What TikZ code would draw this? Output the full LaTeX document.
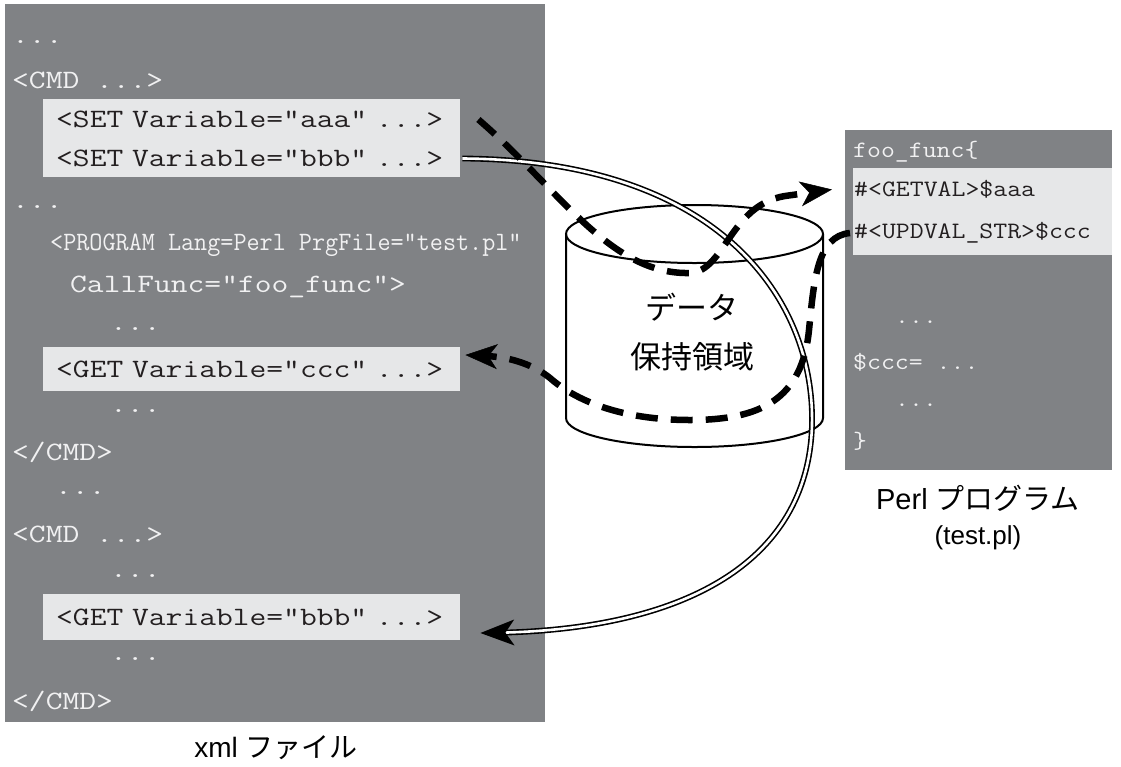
\documentclass[tikz,border=0pt]{standalone}
\usepackage{graphicx}
\usepackage{fontspec}
\setmainfont{Liberation Sans}
\setsansfont{Liberation Sans}
\setmonofont[FakeStretch=1.15]{Latin Modern Mono}
\newfontfamily\xmltt[FakeStretch=1.23]{Latin Modern Mono}
\newfontfamily\jpfont{Noto Sans CJK JP}
\usetikzlibrary{arrows.meta,decorations.markings}

\definecolor{panelgray}{RGB}{128,130,133}
\definecolor{hlgray}{RGB}{230,231,232}
\definecolor{codewhite}{RGB}{241,241,242}
\definecolor{codeblack}{RGB}{35,31,32}

\def\xmlfont{\xmltt\fontsize{26.5}{30}\selectfont}
\def\perlfont{\ttfamily\fontsize{23.5}{28}\selectfont}

\tikzset{
	xmlline/.style={anchor=west, inner sep=0pt, text=codewhite, font=\xmlfont},
	perlline/.style={anchor=west, inner sep=0pt, text=codewhite, font=\perlfont},
	xmlhl/.style={anchor=west, fill=hlgray, text=codeblack, font=\xmlfont, text width=391pt, align=left, inner xsep=13pt, inner ysep=0pt},
	perlhl/.style={anchor=west, fill=hlgray, text=codeblack, font=\perlfont, text width=257pt, align=left, inner xsep=1pt, inner ysep=0pt},
	storeline/.style={line width=2pt},
	dataflow/.style={line width=6.5pt, dash pattern=on 22pt off 13pt, -{Stealth[length=32pt,width=25pt,inset=9pt,line width=0.5pt]}},
	callflow/.style={line width=1.6pt, double=white, double distance=2.6pt, shorten >=14pt,
		postaction={decorate}, decoration={markings, mark=at position 1 with {\fill (0pt,0pt) -- (-34pt,13pt) -- (-25pt,0pt) -- (-34pt,-13pt) -- cycle;}}},
	caption/.style={align=center, text=black, font=\fontsize{29}{34}\selectfont},
}

\begin{document}
\begin{tikzpicture}[x=1pt,y=-1pt]
			%%%%% START %%%%%
			\useasboundingbox (0,0) rectangle (1121,766);
			
			\fill[panelgray] (5,4) rectangle (545,722);
			\fill[panelgray] (845,130) rectangle (1112,470);
			
			%%%%% xml file %%%%%
			\node[xmlline] (dotsA) at (12,42) {...};
			\node[xmlline] (cmdA) at (12,80) {<CMD ...>};
			\node[xmlhl, minimum height=41pt] (setaaa) at (43,119.5) {<SET Variable="aaa" ...>};
			\node[xmlhl, minimum height=37pt] (setbbb) at (43,158.5) {<SET Variable="bbb" ...>};
			\node[xmlline] (dotsB) at (12,207) {...};
			\node[xmlline] (prog) at (50,245) {\scalebox{0.78}[1]{<PROGRAM Lang=Perl PrgFile="test.pl"}};
			\node[xmlline] (callfunc) at (70,287) {CallFunc="foo\_func">};
			\node[xmlline] (dotsC) at (110,329) {...};
			\node[xmlhl, minimum height=44pt] (getccc) at (43,369) {<GET Variable="ccc" ...>};
			\node[xmlline] (dotsD) at (110,411) {...};
			\node[xmlline] (cmdendA) at (12,452) {</CMD>};
			\node[xmlline] (dotsE) at (55,493) {...};
			\node[xmlline] (cmdB) at (12,534) {<CMD ...>};
			\node[xmlline] (dotsF) at (110,576) {...};
			\node[xmlhl, minimum height=46pt] (getbbb) at (43,617) {<GET Variable="bbb" ...>};
			\node[xmlline] (dotsG) at (110,659) {...};
			\node[xmlline] (cmdendB) at (12,701) {</CMD>};
			
			\node[caption, font=\fontsize{28}{32}\selectfont] (xmlcap) at (276,748) {xml {\jpfont ファイル}};
			
			%%%%% perl program %%%%%
			\node[perlline] (foofunc) at (853,152) {foo\_func\{};
			\node[perlhl, minimum height=43pt] (getval) at (853,189.5) {\#<GETVAL>\$aaa};
			\node[perlhl, minimum height=44pt] (updval) at (853,233) {\#<UPDVAL\_STR>\$ccc};
			\node[perlline] (dotsR) at (895,322) {...};
			\node[perlline] (cccset) at (853,362) {\$ccc= ...};
			\node[perlline] (dotsS) at (895,405) {...};
			\node[perlline] (closebr) at (853,441) {\}};
			
			\node[caption] (perlcap) at (978,498) {Perl {\jpfont プログラム}};
			\node[caption, font=\fontsize{26}{30}\selectfont] (plfile) at (978,538) {(test.pl)};
			
			%%%%% data store %%%%%
			\draw[storeline] (566,234) -- (566,418) arc[start angle=180, end angle=360, x radius=128.5pt, y radius=29pt] -- (823,234);
			\draw[storeline] (694.5,234) ellipse [x radius=128.5pt, y radius=29pt];
			\node[align=center, font=\jpfont\fontsize{31}{49}\selectfont] (store) at (692,332) {データ\\保持領域};
			
			%%%%% flows %%%%%
			\draw[callflow] ([xshift=2pt]setbbb.east) .. controls (720,160) and (815,300) .. (812,425)
				.. controls (808,565) and (680,630) .. ([shift={(20,16)}]getbbb.east);
			
			\draw[dataflow] ([xshift=18pt]setaaa.east) .. controls (560,190) and (610,275) .. (690,273)
				.. controls (725,271) and (730,205) .. (785,196) -- ([xshift=-21pt]getval.west);
			\draw[dataflow] ([xshift=-3pt]updval.west) .. controls (817,236) and (814,280) .. (809,330)
				.. controls (802,400) and (760,420) .. (690,420) .. controls (620,420) and (575,400) .. (550,378)
				.. controls (530,362) and (505,357) .. ([shift={(5,-14)}]getccc.east);
			
			%%%%% END %%%%%
\end{tikzpicture}
\end{document}
